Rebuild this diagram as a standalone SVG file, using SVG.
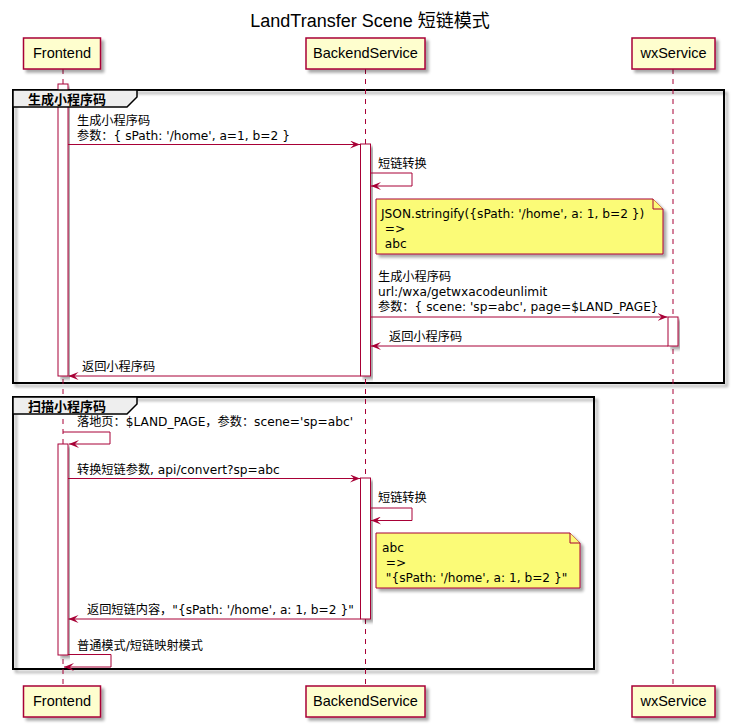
<svg xmlns="http://www.w3.org/2000/svg" width="736" height="726" viewBox="0 0 736 726">
<style>
  text { font-family: "Liberation Sans", "Noto Sans CJK SC", sans-serif; fill: #000; }
  .title { font-size: 18px; text-anchor: middle; }
  .pbox { fill: #FEFECE; stroke: #A80036; stroke-width: 1.5; }
  .ptext { font-size: 14.5px; text-anchor: middle; }
  .life { stroke: #A80036; stroke-width: 1; stroke-dasharray: 5,5; fill: none; }
  .bar { fill: #FFFFFF; stroke: #A80036; stroke-width: 1; }
  .msg { stroke: #A80036; stroke-width: 1; fill: none; marker-end: url(#arr); }
  .mtext { font-family: "DejaVu Sans", "Noto Sans CJK SC", sans-serif; font-size: 12.2px; }
  .grp { fill: none; stroke: #000; stroke-width: 2; }
  .tab { fill: #EEEEEE; stroke: #000; stroke-width: 1.5; }
  .tabtext { font-family: "DejaVu Sans", "Noto Sans CJK SC", sans-serif; font-size: 13px; font-weight: bold; }
  .note { fill: #FBFB77; stroke: #A80036; stroke-width: 1; }
</style>
<defs>
  <marker id="arr" viewBox="0 0 10 8" refX="10" refY="4" markerWidth="10" markerHeight="8" markerUnits="userSpaceOnUse" orient="auto">
    <path d="M0,0 L10,4 L0,8 L4,4 Z" fill="#A80036"/>
  </marker>
  <filter id="sh" x="-10%" y="-10%" width="130%" height="130%">
    <feGaussianBlur in="SourceAlpha" stdDeviation="1.5"/>
    <feOffset dx="3" dy="3" result="o"/>
    <feComponentTransfer><feFuncA type="linear" slope="0.35"/></feComponentTransfer>
    <feMerge><feMergeNode/><feMergeNode in="SourceGraphic"/></feMerge>
  </filter>
</defs>
<rect width="736" height="726" fill="#FFFFFF"/>
<text class="title" x="370" y="27">LandTransfer Scene 短链模式</text>

<g id="group-generate-frame">
  <rect class="grp" x="13" y="90" width="711" height="293" filter="url(#sh)"/>
</g>
<g id="group-scan-frame">
  <rect class="grp" x="13" y="397" width="581" height="272" filter="url(#sh)"/>
</g>

<g id="lifelines">
  <line class="life" x1="63" y1="69" x2="63" y2="686"/>
  <line class="life" x1="365.5" y1="69" x2="365.5" y2="686"/>
  <line class="life" x1="673" y1="69" x2="673" y2="686"/>
</g>

<g id="activations">
  <rect class="bar" x="58" y="84" width="10" height="292" filter="url(#sh)"/>
  <rect class="bar" x="360.5" y="144" width="10" height="232" filter="url(#sh)"/>
  <rect class="bar" x="668" y="317" width="10" height="29" filter="url(#sh)"/>
  <rect class="bar" x="58" y="444" width="10" height="211" filter="url(#sh)"/>
  <rect class="bar" x="360.5" y="478" width="10" height="141" filter="url(#sh)"/>
</g>

<g id="group-generate">
  <path class="tab" d="M13,90 L137,90 L137,97 L127,107 L13,107 Z"/>
  <text class="tabtext" x="28" y="104">生成小程序码</text>
</g>
<g id="group-scan">
  <path class="tab" d="M13,397 L137,397 L137,404 L127,414 L13,414 Z"/>
  <text class="tabtext" x="28" y="411">扫描小程序码</text>
</g>

<g id="connectors">
  <line class="msg" x1="68" y1="144.5" x2="360" y2="144.5"/>
  <text class="mtext" x="77" y="125">生成小程序码</text>
  <text class="mtext" x="77" y="140">参数：{ sPath: '/home', a=1, b=2 }</text>

  <polyline class="msg" points="370.5,173 412,173 412,186 371,186"/>
  <text class="mtext" x="378" y="168">短链转换</text>

  <line class="msg" x1="370.5" y1="317" x2="667.5" y2="317"/>
  <text class="mtext" x="378" y="281">生成小程序码</text>
  <text class="mtext" x="378" y="296">url:/wxa/getwxacodeunlimit</text>
  <text class="mtext" x="378" y="311">参数：{ scene: 'sp=abc', page=$LAND_PAGE}</text>

  <line class="msg" x1="668" y1="346" x2="371" y2="346"/>
  <text class="mtext" x="389" y="341">返回小程序码</text>

  <line class="msg" x1="360.5" y1="376" x2="68.5" y2="376"/>
  <text class="mtext" x="82" y="371">返回小程序码</text>

  <polyline class="msg" points="63,432 110,432 110,444 69,444"/>
  <text class="mtext" x="77" y="426">落地页：$LAND_PAGE，参数：scene='sp=abc'</text>

  <line class="msg" x1="68" y1="478.5" x2="360" y2="478.5"/>
  <text class="mtext" x="77" y="474">转换短链参数, api/convert?sp=abc</text>

  <polyline class="msg" points="370.5,508 412,508 412,520.5 371,520.5"/>
  <text class="mtext" x="378" y="502">短链转换</text>

  <line class="msg" x1="360.5" y1="619" x2="68.5" y2="619"/>
  <text class="mtext" x="87" y="614">返回短链内容，"{sPath: '/home', a: 1, b=2 }"</text>

  <polyline class="msg" points="68,654.5 111,654.5 111,667 64,667"/>
  <text class="mtext" x="77" y="650">普通模式/短链映射模式</text>
</g>

<g id="note-encode">
  <path class="note" d="M376,199 L653,199 L663,209 L663,254 L376,254 Z" filter="url(#sh)"/>
  <path class="note" d="M653,199 L653,209 L663,209"/>
  <text class="mtext" x="381" y="218">JSON.stringify({sPath: '/home', a: 1, b=2 })</text>
  <text class="mtext" x="381" y="233" xml:space="preserve"> =&gt;</text>
  <text class="mtext" x="381" y="248" xml:space="preserve"> abc</text>
</g>

<g id="note-decode">
  <path class="note" d="M376,533 L570,533 L580,543 L580,588 L376,588 Z" filter="url(#sh)"/>
  <path class="note" d="M570,533 L570,543 L580,543"/>
  <text class="mtext" x="382" y="552">abc</text>
  <text class="mtext" x="382" y="567" xml:space="preserve"> =&gt;</text>
  <text class="mtext" x="382" y="582" xml:space="preserve"> "{sPath: '/home', a: 1, b=2 }"</text>
</g>

<g id="frontend-top">
  <rect class="pbox" x="23.5" y="38" width="77" height="31" filter="url(#sh)"/>
  <text class="ptext" x="62" y="58">Frontend</text>
</g>
<g id="backend-top">
  <rect class="pbox" x="306" y="38" width="119" height="31" filter="url(#sh)"/>
  <text class="ptext" x="365.5" y="58">BackendService</text>
</g>
<g id="wx-top">
  <rect class="pbox" x="632" y="38" width="83" height="31" filter="url(#sh)"/>
  <text class="ptext" x="673.5" y="58">wxService</text>
</g>
<g id="frontend-bottom">
  <rect class="pbox" x="23.5" y="686" width="77" height="31" filter="url(#sh)"/>
  <text class="ptext" x="62" y="706">Frontend</text>
</g>
<g id="backend-bottom">
  <rect class="pbox" x="306" y="686" width="119" height="31" filter="url(#sh)"/>
  <text class="ptext" x="365.5" y="706">BackendService</text>
</g>
<g id="wx-bottom">
  <rect class="pbox" x="632" y="686" width="83" height="31" filter="url(#sh)"/>
  <text class="ptext" x="673.5" y="706">wxService</text>
</g>
</svg>
